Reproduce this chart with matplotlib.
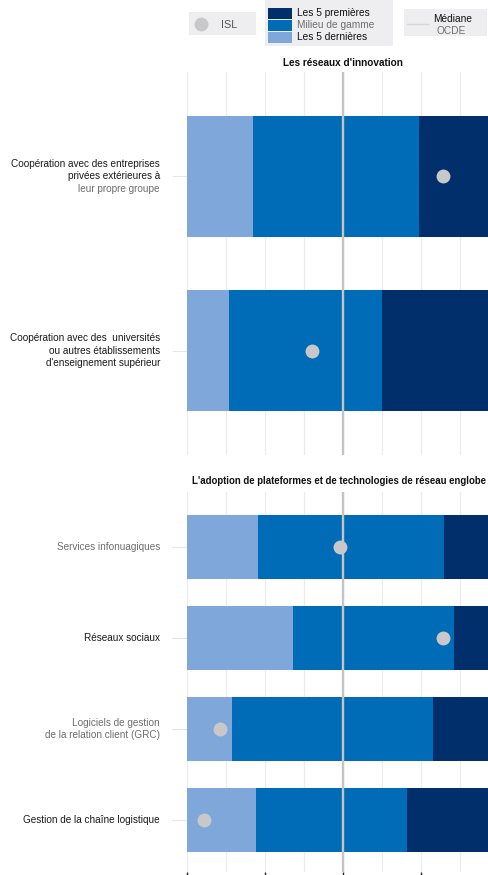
import matplotlib
matplotlib.use("Agg")
import matplotlib.pyplot as plt
from matplotlib.patches import Rectangle
from matplotlib.lines import Line2D

plt.rcParams['font.family'] = ['Liberation Sans', 'DejaVu Sans']

# ---------------- data ----------------
title_top = "Les réseaux d'innovation"
title_bottom = "L'adoption de plateformes et de technologies de réseau englobe"

# labels: list of (text, color) lines per category
labels_top = [
    [("Coopération avec des entreprises", "#1a1a1a"),
     ("privées extérieures à", "#1a1a1a"),
     ("leur propre groupe", "#6e6e6e")],
    [("Coopération avec des  universités", "#1a1a1a"),
     ("ou autres établissements", "#1a1a1a"),
     ("d'enseignement supérieur", "#1a1a1a")],
]
labels_bottom = [
    [("Services infonuagiques", "#6e6e6e")],
    [("Réseaux sociaux", "#1a1a1a")],
    [("Logiciels de gestion", "#6e6e6e"),
     ("de la relation client (GRC)", "#6e6e6e")],
    [("Gestion de la chaîne logistique", "#1a1a1a")],
]

# stacked segment boundaries (end of bottom-5, end of middle range, end of top-5)
bottom5_top = [16.9, 10.8]
middle_top = [59.5, 50.0]
top5_top = [100.0, 100.0]
isl_top = [65.6, 32.1]

bottom5_bot = [18.2, 27.2, 11.5, 17.7]
middle_bot = [65.9, 68.5, 63.1, 56.4]
top5_bot = [100.0, 100.0, 100.0, 100.0]
isl_bot = [39.2, 65.6, 8.5, 4.4]

oecd_median = 40.0

legend_labels = ["ISL", "Les 5 premières", "Milieu de gamme", "Les 5 dernières", "Médiane", "OCDE"]

# ---------------- style ----------------
C_DARK = "#002f6c"
C_MID = "#006bb6"
C_LIGHT = "#7fa7d9"
C_DOT = "#c8c8c8"
C_MED = "#c4c4c4"
C_GRID = "#ececec"

W, H = 489, 875
fig = plt.figure(figsize=(W / 100, H / 100), dpi=100)

def px_axes(left, top, right, bottom):
    return fig.add_axes([left / W, 1 - bottom / H, (right - left) / W, (bottom - top) / H])

ax1 = px_axes(187, 72, 499, 455)
ax2 = px_axes(187, 492, 499, 872)


def draw_panel(ax, labels, b5, mid, t5, isl, ylim, show_ticks, bar_h=0.70):
    n = len(labels)
    ys = list(range(n))
    ax.set_xlim(0, 80)
    ax.set_ylim(ylim[1], ylim[0])
    for x in range(0, 81, 10):
        ax.axvline(x, color=C_GRID, lw=0.9, zorder=0)
    w_mid = [m - b for m, b in zip(mid, b5)]
    w_top = [t - m for t, m in zip(t5, mid)]
    ax.barh(ys, b5, height=bar_h, color=C_LIGHT, zorder=2)
    ax.barh(ys, w_mid, left=b5, height=bar_h, color=C_MID, zorder=2)
    ax.barh(ys, w_top, left=mid, height=bar_h, color=C_DARK, zorder=2)
    ax.axvline(oecd_median, color=C_MED, lw=1.7, zorder=3)
    ax.scatter(isl, ys, s=100, color=C_DOT, zorder=4, linewidths=0)
    for s in ax.spines.values():
        s.set_visible(False)
    ax.set_yticks(ys)
    ax.set_yticklabels([""] * n)
    ax.tick_params(axis='y', length=11, color="#e6e6e6", width=0.8)
    if show_ticks:
        ax.set_xticks([0, 20, 40, 60, 80])
        ax.set_xticklabels([""] * 5)
        ax.tick_params(axis='x', length=4, color="#222222", width=1.0, direction='out')
    else:
        ax.set_xticks([])
    ax.patch.set_alpha(0)
    # category labels
    lh = 9.0  # line spacing in points
    for y, lines in zip(ys, labels):
        k = len(lines)
        for i, (txt, col) in enumerate(lines):
            off = ((k - 1) / 2 - i) * lh
            ax.annotate(txt, xy=(0, y), xycoords=('axes fraction', 'data'),
                        xytext=(-19.5, off), textcoords='offset points',
                        ha='right', va='center', fontsize=7.2, color=col,
                        annotation_clip=False)


draw_panel(ax1, labels_top, bottom5_top, middle_top, top5_top, isl_top, (-0.6, 1.6), False)
draw_panel(ax2, labels_bottom, bottom5_bot, middle_bot, top5_bot, isl_bot, (-0.6, 3.57), True)

ax1.set_title(title_top, fontsize=7.2, fontweight='bold', pad=4, color="#111111")
fig.text(192 / W, 1 - 481 / H, title_bottom, fontsize=6.9, fontweight='bold',
         ha='left', va='center', color="#111111")

# ---------------- legend ----------------
BOX = "#eeedf0"
def px_rect(x0, y0, x1, y1, color):
    fig.add_artist(Rectangle((x0 / W, 1 - y1 / H), (x1 - x0) / W, (y1 - y0) / H,
                             transform=fig.transFigure, color=color, lw=0))

px_rect(189, 12, 256, 35, BOX)
fig.add_artist(Line2D([201 / W], [1 - 24 / H], marker='o', markersize=10, color=C_DOT,
                      markeredgewidth=0, transform=fig.transFigure))
fig.text(221 / W, 1 - 24.5 / H, legend_labels[0], fontsize=7.8, color="#555555", ha='left', va='center')

px_rect(265, 0, 393, 46, BOX)
for (y0, y1), col, lab, tc in [((8, 19), C_DARK, legend_labels[1], "#111111"),
                               ((20, 31), C_MID, legend_labels[2], "#6e6e6e"),
                               ((32, 43), C_LIGHT, legend_labels[3], "#111111")]:
    px_rect(268, y0, 292, y1, col)
    fig.text(297 / W, 1 - ((y0 + y1) / 2) / H, lab, fontsize=7.3, color=tc, ha='left', va='center')

px_rect(404, 9, 487, 36, BOX)
fig.add_artist(Line2D([407 / W, 428 / W], [1 - 24 / H, 1 - 24 / H], color="#d6d6d6", lw=1.0,
                      transform=fig.transFigure))
fig.text(453 / W, 1 - 19 / H, legend_labels[4], fontsize=7.3, color="#111111", ha='center', va='center')
fig.text(451 / W, 1 - 31 / H, legend_labels[5], fontsize=7.3, color="#6e6e6e", ha='center', va='center')

fig.savefig("out.png", dpi=100)
